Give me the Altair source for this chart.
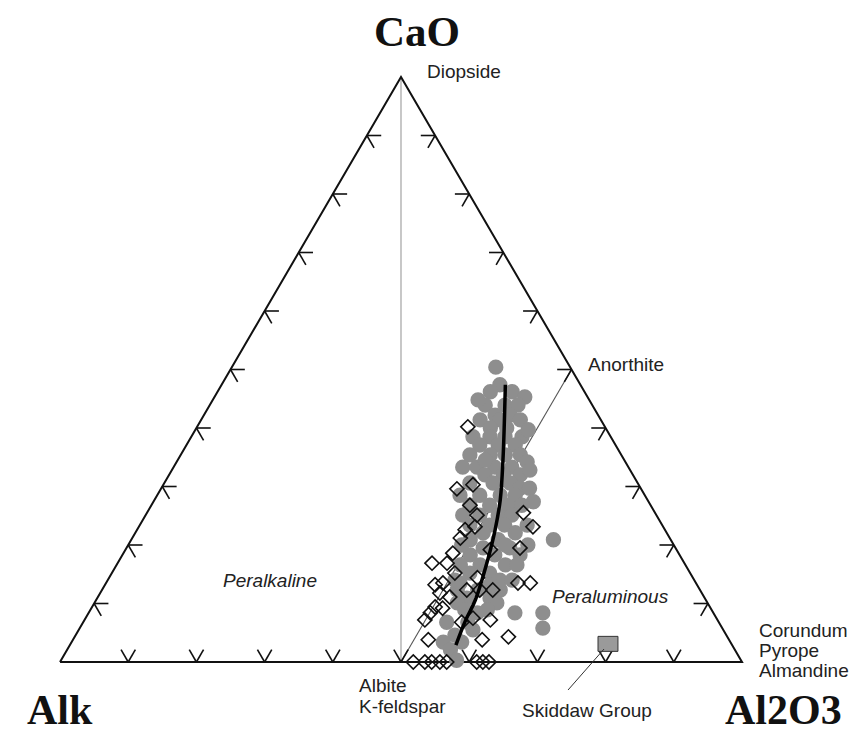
import altair as alt
import pandas as pd

# ---- Ternary compositions (%): CaO, Al2O3, Alk ----
circle_cao = [50.4, 47.4, 46.2, 46.2, 45.3, 43.9, 43.9, 43.9, 42.2, 42.2, 41.4, 41.4, 41.4, 40.0, 40.0,
              38.5, 38.5, 38.5, 38.5, 37.1, 37.1, 37.1, 35.4, 35.4, 35.4, 35.4, 34.2, 33.3, 33.3, 33.3,
              33.3, 32.0, 32.0, 32.0, 30.6, 30.6, 30.6, 29.7, 29.7, 28.5, 28.5, 28.5, 27.4, 26.8, 26.8,
              26.8, 26.8, 25.1, 25.1, 25.1, 25.1, 23.4, 23.4, 23.4, 23.4, 22.1, 22.1, 20.9, 20.9, 20.9,
              19.5, 19.5, 18.3, 18.3, 18.3, 16.6, 16.6, 16.6, 16.6, 15.2, 15.2, 14.0, 14.0, 14.0, 12.3,
              12.3, 12.3, 10.9, 10.9, 10.1, 10.1, 8.4, 8.4, 8.4, 6.8, 6.8, 5.8, 4.6, 3.4, 3.4,
              2.1, 0.3, 13.5,
              44.8, 39.7, 34.5, 32.8, 20.0, 13.2, 8.9, 8.9, 5.5, 20.0, 28.5, 20.0]
circle_al2o3 = [38.7, 40.8, 40.0, 43.2, 45.5, 40.4, 43.3, 45.2, 42.7, 44.9, 40.9, 43.8, 46.8, 43.1, 45.5,
                41.3, 43.8, 46.0, 48.5, 43.0, 45.7, 48.2, 42.4, 45.4, 47.6, 49.8, 51.4, 42.4, 44.5, 47.1,
                49.6, 46.3, 49.0, 51.5, 44.8, 48.2, 50.7, 52.6, 54.0, 47.3, 50.3, 52.5, 55.7, 46.7, 49.6,
                52.3, 54.3, 46.5, 49.0, 51.7, 53.7, 48.4, 51.3, 53.5, 56.8, 51.0, 55.7, 49.7, 53.8, 61.9,
                52.3, 56.2, 51.0, 54.6, 58.3, 50.4, 53.3, 57.0, 58.7, 52.5, 55.4, 50.9, 57.5, 59.3, 52.1,
                55.1, 58.4, 54.2, 57.6, 53.2, 59.0, 57.0, 62.5, 66.6, 53.3, 56.4, 67.9, 55.6, 54.5, 57.2,
                56.2, 58.0, 51.9,
                38.9, 48.8, 45.1, 52.5, 55.3, 56.5, 54.9, 58.2, 57.8, 58.6, 44.4, 48.9]
circle_alk = [10.9, 11.8, 13.8, 10.6, 9.2, 15.7, 12.8, 10.9, 15.1, 12.9, 17.7, 14.8, 11.8, 16.9, 14.5,
              20.2, 17.7, 15.5, 13.0, 19.9, 17.2, 14.7, 22.2, 19.2, 17.0, 14.8, 14.4, 24.3, 22.2, 19.6,
              17.1, 21.7, 19.0, 16.5, 24.6, 21.2, 18.7, 17.7, 16.3, 24.2, 21.2, 19.0, 16.9, 26.5, 23.6,
              20.9, 18.9, 28.4, 25.9, 23.2, 21.2, 28.2, 25.3, 23.1, 19.8, 26.9, 22.2, 29.4, 25.3, 17.2,
              28.2, 24.3, 30.7, 27.1, 23.4, 33.0, 30.1, 26.4, 24.7, 32.3, 29.4, 35.1, 28.5, 26.7, 35.6,
              32.6, 29.3, 34.9, 31.5, 36.7, 30.9, 34.6, 29.1, 25.0, 39.9, 36.8, 26.3, 39.8, 42.1, 39.4,
              41.7, 41.7, 34.6,
              16.3, 11.5, 20.4, 14.7, 24.7, 30.3, 36.2, 32.9, 36.7, 21.4, 27.1, 31.1]

diamond_cao = [40.2, 29.6, 30.3, 26.8, 25.1, 25.5, 22.6, 23.1, 21.2, 23.1, 18.6, 19.2, 19.5, 16.9, 16.9,
               13.2, 13.5, 11.8, 12.3, 12.3, 12.3, 13.5, 13.5, 9.4, 9.2, 7.2, 6.8, 7.5, 7.2, 3.8,
               3.8, 4.3, 0.0, 0.0, 0.0, 0.0, 0.0, 0.0, 0.0, 0.0, 8.4, 14.4, 11.1, 15.2]
diamond_al2o3 = [39.7, 43.4, 45.4, 46.7, 48.6, 55.2, 48.1, 49.3, 48.1, 57.8, 48.3, 53.5, 57.7, 46.1, 48.3,
                 48.4, 49.4, 49.8, 53.5, 55.4, 57.3, 60.4, 62.2, 50.3, 51.5, 49.9, 55.5, 56.8, 59.5, 52.1,
                 60.0, 63.6, 51.8, 53.5, 54.5, 55.7, 56.7, 61.1, 62.0, 62.9, 50.1, 54.0, 51.6, 50.3]
diamond_alk = [20.1, 27.0, 24.3, 26.5, 26.3, 19.3, 29.3, 27.6, 30.7, 19.1, 33.1, 27.3, 22.8, 37.0, 34.8,
               38.4, 37.1, 38.4, 34.2, 32.3, 30.4, 26.1, 24.3, 40.3, 39.3, 42.9, 37.7, 35.7, 33.3, 44.1,
               36.2, 32.1, 48.2, 46.5, 45.5, 44.3, 43.3, 38.9, 38.0, 37.1, 41.5, 31.6, 37.3, 34.5]

trend_cao = [47.4, 34.5, 27.7, 22.6, 17.4, 10.6, 7.2, 2.9]
trend_al2o3 = [41.6, 47.7, 50.7, 52.5, 54.0, 55.6, 55.9, 56.6]
trend_alk = [11.0, 17.8, 21.6, 24.9, 28.6, 33.8, 36.9, 40.5]

skiddaw_cao = [3.1]
skiddaw_al2o3 = [78.8]
skiddaw_alk = [18.1]

# mineral reference compositions
ref_names = ["Diopside", "Albite", "Anorthite"]
ref_cao = [100.0, 0.0, 50.0]
ref_al2o3 = [0.0, 50.0, 50.0]
ref_alk = [0.0, 50.0, 0.0]

vertex_names = ["Alk", "Al2O3", "CaO", "Alk"]
vertex_cao = [0, 0, 100, 0]
vertex_al2o3 = [0, 100, 0, 0]
vertex_alk = [100, 0, 0, 100]

tick_fracs = [0.1, 0.2, 0.3, 0.4, 0.5, 0.6, 0.7, 0.8, 0.9]

# ---- scales (plot-area pixel ranges for the triangle) ----
XS = alt.Scale(domain=[0, 1], range=[52, 734], nice=False, zero=False)
YS = alt.Scale(domain=[0, 1], range=[654, 69], nice=False, zero=False)


def ternary(chart):
    return chart.transform_calculate(
        tot="datum.CaO + datum.Al2O3 + datum.Alk"
    ).transform_calculate(
        X="(datum.Al2O3 + datum.CaO / 2) / datum.tot",
        Y="datum.CaO / datum.tot",
    )


def xy(**kw):
    return dict(x=alt.X("X:Q", scale=XS, axis=None), y=alt.Y("Y:Q", scale=YS, axis=None), **kw)


circles = pd.DataFrame({"CaO": circle_cao, "Al2O3": circle_al2o3, "Alk": circle_alk})
diamonds = pd.DataFrame({"CaO": diamond_cao, "Al2O3": diamond_al2o3, "Alk": diamond_alk})
trend = pd.DataFrame({"CaO": trend_cao, "Al2O3": trend_al2o3, "Alk": trend_alk,
                      "i": list(range(len(trend_cao)))})
skiddaw = pd.DataFrame({"CaO": skiddaw_cao, "Al2O3": skiddaw_al2o3, "Alk": skiddaw_alk})
verts = pd.DataFrame({"name": vertex_names, "CaO": vertex_cao, "Al2O3": vertex_al2o3,
                      "Alk": vertex_alk, "i": list(range(4))})
refs = pd.DataFrame({"name": ref_names, "CaO": ref_cao, "Al2O3": ref_al2o3, "Alk": ref_alk})


def ref_xy(n):
    r = refs[refs.name == n].iloc[0]
    t = r.CaO + r.Al2O3 + r.Alk
    return (r.Al2O3 + r.CaO / 2) / t, r.CaO / t


segs = []
for a, b, c in [("Diopside", "Albite", "#9a9a9a"), ("Albite", "Anorthite", "#555555")]:
    (x1, y1), (x2, y2) = ref_xy(a), ref_xy(b)
    segs.append({"X": x1, "Y": y1, "X2": x2, "Y2": y2, "c": c})
ref_lines = pd.DataFrame(segs)

# tick marks (arms parallel to the other two edges)
L = 0.021
tk = []
for t in tick_fracs:
    px, py = t, 0.0
    tk.append((px, py, px - 0.5 * L, py + L))
    tk.append((px, py, px + 0.5 * L, py + L))
    px, py = 0.5 * t, t
    tk.append((px, py, px + L, py))
    tk.append((px, py, px + 0.5 * L, py - L))
    px, py = 1 - 0.5 * t, t
    tk.append((px, py, px - L, py))
    tk.append((px, py, px - 0.5 * L, py - L))
ticks = pd.DataFrame(tk, columns=["X", "Y", "X2", "Y2"])

outline = ternary(alt.Chart(verts).mark_line(color="#111111", strokeWidth=2)).encode(
    **xy(order="i:O"))

tick_layer = alt.Chart(ticks).mark_rule(color="#111111", strokeWidth=1.6).encode(
    **xy(x2="X2:Q", y2="Y2:Q"))

ref_layer = alt.Chart(ref_lines).mark_rule(strokeWidth=1.1).encode(
    **xy(x2="X2:Q", y2="Y2:Q", color=alt.Color("c:N", scale=None)))

circle_layer = ternary(alt.Chart(circles).mark_circle(
    size=235, color="#8e8e8e", opacity=1)).encode(**xy())

diamond_layer = ternary(alt.Chart(diamonds).mark_point(
    shape="diamond", size=200, filled=False, stroke="#111111", strokeWidth=1.6, opacity=1)).encode(**xy())

trend_layer = ternary(alt.Chart(trend).mark_line(
    color="#000000", strokeWidth=3.5, interpolate="catmull-rom")).encode(**xy(order="i:O"))

sk_layer = ternary(alt.Chart(skiddaw).mark_point(
    shape="M-1.33,-1L1.33,-1L1.33,1L-1.33,1Z", size=225, filled=True, fill="#9a9a9a",
    stroke="#333333", strokeWidth=1, opacity=1)).encode(**xy())

leader = pd.DataFrame({"X": [0.7977], "Y": [0.0222], "X2": [0.7449], "Y2": [-0.0479]})
leader_layer = alt.Chart(leader).mark_rule(color="#333333", strokeWidth=1).encode(
    **xy(x2="X2:Q", y2="Y2:Q"))

# ---- labels (data-space positions) ----
serif_labels = pd.DataFrame({
    "t": ["CaO", "Alk", "Al2O3"],
    "X": [0.5235, -0.0484, 0.9751],
    "Y": [1.0530, -0.1060, -0.1060],
    "a": ["center", "left", "left"],
})
sans_labels = pd.DataFrame({
    "t": ["Diopside", "Anorthite", "Corundum", "Pyrope", "Almandine", "Albite", "K-feldspar",
          "Skiddaw Group"],
    "X": [0.5381, 0.7742, 1.0249, 1.0249, 1.0249, 0.4384, 0.4384, 0.6774],
    "Y": [0.9983, 0.4974, 0.0427, 0.0085, -0.0256, -0.0513, -0.0872, -0.0940],
})
italic_labels = pd.DataFrame({
    "t": ["Peralkaline", "Peraluminous"],
    "X": [0.2390, 0.7214],
    "Y": [0.1282, 0.1009],
})

serif_c = alt.Chart(serif_labels[serif_labels.a == "center"]).mark_text(
    font="Liberation Serif", fontWeight="bold", fontSize=43, align="center",
    baseline="alphabetic", color="#111111").encode(**xy(text="t:N"))
serif_l = alt.Chart(serif_labels[serif_labels.a == "left"]).mark_text(
    font="Liberation Serif", fontWeight="bold", fontSize=42, align="left",
    baseline="alphabetic", color="#111111").encode(**xy(text="t:N"))
sans_layer = alt.Chart(sans_labels).mark_text(
    font="Liberation Sans", fontSize=19, align="left", baseline="alphabetic",
    color="#222222").encode(**xy(text="t:N"))
italic_layer = alt.Chart(italic_labels).mark_text(
    font="Liberation Sans", fontStyle="italic", fontSize=19, align="left",
    baseline="alphabetic", color="#222222").encode(**xy(text="t:N"))

chart = alt.layer(
    ref_layer, outline, tick_layer, circle_layer, diamond_layer, trend_layer,
    sk_layer, leader_layer, serif_c, serif_l, sans_layer, italic_layer,
).properties(width=845, height=715, padding=0, background="white").configure_view(stroke=None)

chart.save("out.html", embed_options={"renderer": "svg", "actions": False})
